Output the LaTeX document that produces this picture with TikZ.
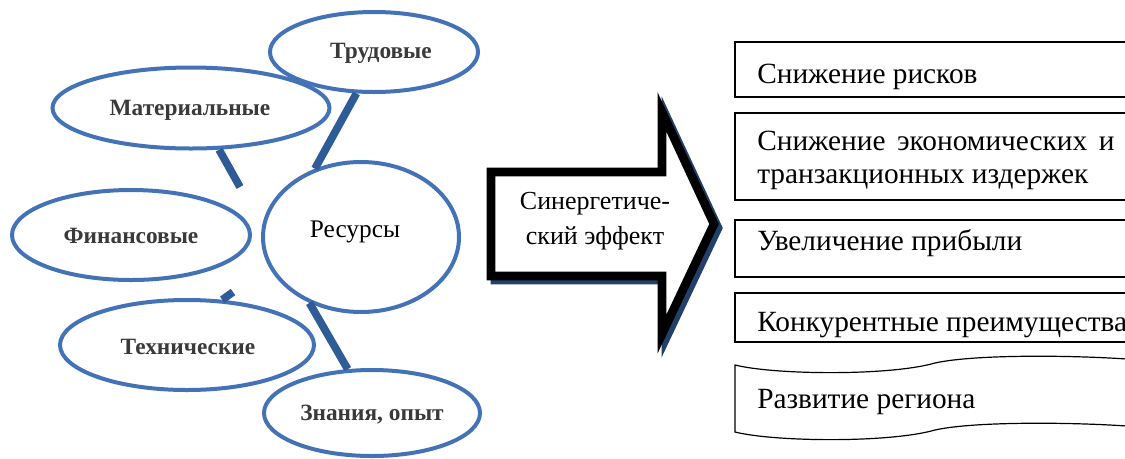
\documentclass[tikz,border=0pt]{standalone}
\usepackage{fontspec}
\setmainfont{Liberation Serif}
\usetikzlibrary{shapes.geometric}
\definecolor{ellblue}{HTML}{4372B6}
\definecolor{linkblue}{HTML}{2F5B96}
\definecolor{shadowblue}{HTML}{22406A}
\definecolor{lbl}{HTML}{3A3A3A}
\tikzset{
  res/.style={ellipse, draw=ellblue, line width=3pt, fill=white, inner sep=0pt},
  reslabel/.style={font=\fontsize{17.5}{20}\selectfont\bfseries, text=lbl},
  link/.style={draw=linkblue, line width=5.8pt},
  effbox/.style={draw=black, line width=0.9pt},
  efftext/.style={font=\fontsize{22}{25}\selectfont, anchor=base west, inner sep=0pt},
}
\begin{document}
\begin{tikzpicture}[x=0.75pt, y=-0.75pt]
\useasboundingbox (0,0) rectangle (1125,458);
\clip (0,0) rectangle (1125,458);
\fill[white] (0,0) rectangle (1125,458);

% resource ellipses
\node[res, minimum width=156pt, minimum height=60pt] (trud) at (374,52) {};
\node[res, minimum width=207.75pt, minimum height=60.75pt] (mat) at (191,108) {};
\node[res, minimum width=147pt, minimum height=112.5pt] (resc) at (361,237) {};
\node[res, minimum width=178.5pt, minimum height=67.5pt] (fin) at (131,235) {};
\node[res, minimum width=190.5pt, minimum height=67.5pt] (tech) at (187,345) {};
\node[res, minimum width=162pt, minimum height=64.5pt] (zn) at (372,413) {};

% connectors
\coordinate (matend) at (240,187);
\coordinate (techend) at (233,292);
\draw[link] (trud.-113) -- (resc.124);
\draw[link] (mat.-56) -- (matend);
\draw[link] (tech.52) -- (techend);
\draw[link] (resc.-128) -- (zn.119);

% labels
\node[reslabel] (ltrud) at (381,53) {Трудовые};
\node[reslabel] (lmat) at (190,110) {Материальные};
\node[reslabel] (lfin) at (131,236) {Финансовые};
\node[reslabel] (ltech) at (188,347) {Технические};
\node[reslabel] (lzn) at (372,415) {Знания, опыт};
\node[font=\fontsize{19}{22}\selectfont] (lres) at (355,232) {Ресурсы};

% arrow with shadow
\draw[shadowblue, line width=6.5pt, miter limit=10]
  (495,176) -- (666,176) -- (666,116) -- (718,228) -- (666,338) -- (666,280) -- (495,280) -- cycle;
\draw[black, line width=6.5pt, fill=white, miter limit=10]
  (491,172) -- (662,172) -- (662,112) -- (714,224) -- (662,334) -- (662,276) -- (491,276) -- cycle;
\node[font=\fontsize{19.5}{26}\selectfont, align=center] (syn) at (595,221) {Синергетиче-\\ский эффект};

% effect boxes
\draw[effbox] (1140,42) -- (735,42) -- (735,97) -- (1140,97);
\draw[effbox] (1140,113) -- (735,113) -- (735,200) -- (1140,200);
\draw[effbox] (1140,220) -- (735,220) -- (735,277) -- (1140,277);
\draw[effbox] (1140,293) -- (735,293) -- (735,342) -- (1140,342);
\draw[effbox] (1140,360) .. controls (1080,355) and (975,354) .. (935,363)
  .. controls (890,376) and (775,375) .. (735,365) -- (735,432)
  .. controls (775,442) and (890,443) .. (935,430)
  .. controls (975,421) and (1080,422) .. (1140,427);

\node[efftext] (e1) at (757,83) {Снижение рисков};
\node[efftext] (e2a) at (757,150) {\hbox to 268pt{Снижение\hfill экономических\hfill и}};
\node[efftext] (e2b) at (757,183) {транзакционных издержек};
\node[efftext] (e3) at (757,250) {Увеличение прибыли};
\node[efftext] (e4) at (757,331) {Конкурентные преимущества};
\node[efftext] (e5) at (757,408) {Развитие региона};
\end{tikzpicture}
\end{document}
